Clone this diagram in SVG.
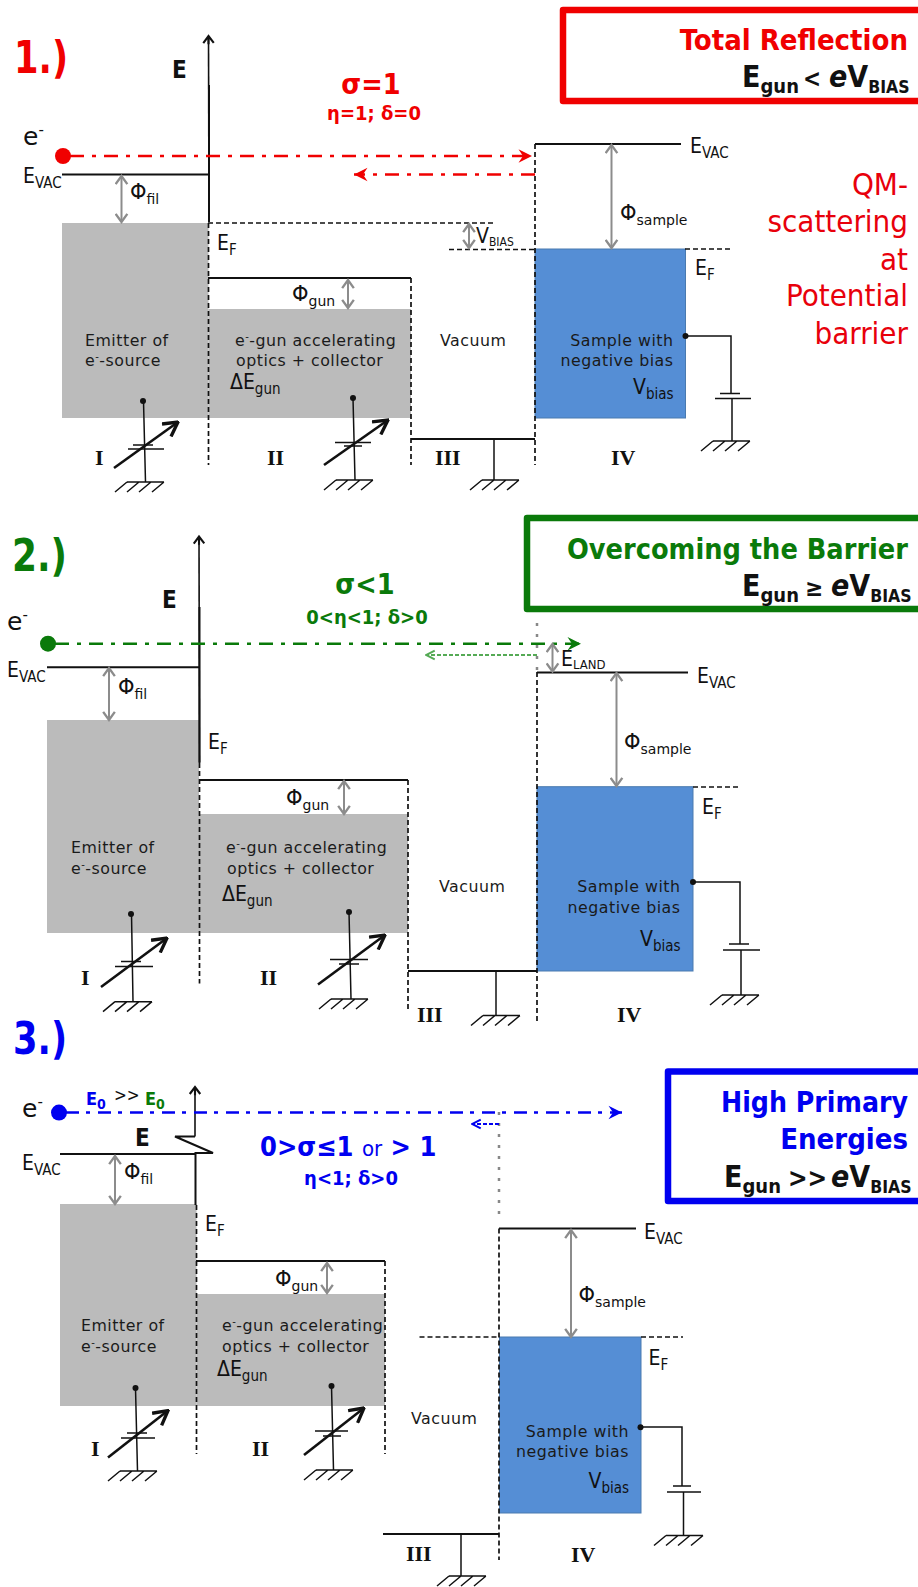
<svg xmlns="http://www.w3.org/2000/svg" width="918" height="1587" viewBox="0 0 918 1587">
<defs>
<style>
text{font-family:"DejaVu Sans","Noto Sans",sans-serif;font-stretch:condensed;fill:#111}
.ts{font-size:15.8px;fill:#1a1a1a;font-stretch:normal;letter-spacing:.5px}
.ts tspan{font-stretch:normal}
.lb{font-size:21px}
.lbs{font-size:15px}
.phi{font-size:21px;font-stretch:normal}
.sb{font-size:14px;font-stretch:normal}
.el{font-size:25px;font-stretch:normal}
.rom{font-family:"Liberation Serif",serif;font-weight:700;font-size:22px;font-stretch:normal}
.big{font-size:44px;font-weight:700}
.ttl{font-size:29px;font-weight:700;text-anchor:end}
.cond{font-size:30px;font-weight:700}
.cs{font-size:20px;font-weight:700}
.bi{font-size:17.5px;font-weight:700}
.sig{font-weight:700;font-size:28.5px;text-anchor:middle}
.eta{font-weight:700;font-size:20px;text-anchor:middle}
.qm{font-size:31px;fill:#e8000b;text-anchor:end}
.end{text-anchor:end}
.r{fill:#f00000}.g{fill:#0a7a0a}.b{fill:#0000f0}
.gray{fill:#bbb}
.blue{fill:#558ed5;stroke:#4a7aaf;stroke-width:1}
.s{stroke:#111;stroke-width:2;fill:none}
.th{stroke:#111;stroke-width:1.5;fill:none}
.d{stroke:#111;stroke-width:1.7;fill:none;stroke-dasharray:5 3}
.dot{stroke:#888;stroke-width:2.5;fill:none;stroke-dasharray:3 8}
.ga{stroke:#8c8c8c;stroke-width:2;fill:none;marker-start:url(#mg);marker-end:url(#mg)}
.va{stroke:#111;stroke-width:2.6;fill:none;marker-end:url(#mv)}
.ax{stroke:#111;stroke-width:1.6;fill:none;marker-end:url(#mk)}
.fr{fill:none;stroke-width:6.5;stroke-linejoin:round}
</style>
<marker id="mg" markerUnits="userSpaceOnUse" markerWidth="14" markerHeight="14" refX="10" refY="6" orient="auto-start-reverse" viewBox="0 0 12 12"><path d="M3 1L10 6L3 11" fill="none" stroke="#8c8c8c" stroke-width="2"/></marker>
<marker id="mv" markerUnits="userSpaceOnUse" markerWidth="18" markerHeight="18" refX="13" refY="7" orient="auto" viewBox="0 0 14 14"><path d="M2 1L13 7L2 13" fill="none" stroke="#111" stroke-width="2.6"/></marker>
<marker id="mk" markerUnits="userSpaceOnUse" markerWidth="14" markerHeight="14" refX="9" refY="6" orient="auto" viewBox="0 0 12 12"><path d="M3 1.5L9 6L3 10.500M9 6H2" fill="none" stroke="#111" stroke-width="1.8"/></marker>
<marker id="mr" markerUnits="userSpaceOnUse" markerWidth="18" markerHeight="16" refX="15" refY="7" orient="auto" viewBox="0 0 16 14"><path d="M3 1L15 7L3 13L7 7Z" fill="#f00000"/></marker>
<marker id="mgn" markerUnits="userSpaceOnUse" markerWidth="18" markerHeight="16" refX="15" refY="7" orient="auto" viewBox="0 0 16 14"><path d="M3 1L15 7L3 13L7 7Z" fill="#0a7a0a"/></marker>
<marker id="mlg" markerUnits="userSpaceOnUse" markerWidth="12" markerHeight="12" refX="10" refY="5" orient="auto" viewBox="0 0 11 10"><path d="M2 1L10 5L2 9" fill="none" stroke="#55aa55" stroke-width="1.8"/></marker>
<marker id="mb" markerUnits="userSpaceOnUse" markerWidth="18" markerHeight="16" refX="15" refY="7" orient="auto" viewBox="0 0 16 14"><path d="M3 1L15 7L3 13L7 7Z" fill="#0000f0"/></marker>
<marker id="mlb" markerUnits="userSpaceOnUse" markerWidth="12" markerHeight="12" refX="10" refY="5" orient="auto" viewBox="0 0 11 10"><path d="M2 1L10 5L2 9" fill="none" stroke="#0000f0" stroke-width="1.8"/></marker>
<path id="gnd" d="M12 0H49M12 0L0 10M24 0L12 10M36 0L24 10M49 0L37 10" fill="none" stroke="#111" stroke-width="1.5"/>
<circle id="pt" r="3" fill="#111"/>
</defs>
<rect width="918" height="1587" fill="#fff"/>

<!-- PANEL 1 -->
<g id="p1-emitter"><rect class="gray" x="62" y="223" width="146.500" height="195"/>
<text class="ts" x="85" y="346">Emitter of</text><text class="ts" x="85" y="366">e<tspan font-size="10" dy="-6">-</tspan><tspan dy="6">-source</tspan></text></g>
<g id="p1-gun"><rect class="gray" x="208.500" y="309" width="202.500" height="109"/>
<text class="ts" x="235" y="346">e<tspan font-size="10" dy="-6">-</tspan><tspan dy="6">-gun accelerating</tspan></text><text class="ts" x="236" y="366">optics + collector</text>
<text class="lb" x="230" y="389">ΔE<tspan class="lbs" dy="5">gun</tspan></text></g>
<g id="p1-vacuum"><text class="ts" x="440" y="346">Vacuum</text></g>
<g id="p1-sample"><rect class="blue" x="535" y="249" width="150.500" height="169"/>
<text class="ts end" x="673.500" y="346">Sample with</text><text class="ts end" x="673.500" y="366">negative bias</text>
<text class="lb end" x="673.500" y="394">V<tspan class="lbs" dy="5">bias</tspan></text></g>
<g id="p1-box"><rect class="fr" x="563" y="10" width="365" height="91" stroke="#f00000"/>
<text class="ttl r" x="908" y="50">Total Reflection</text>
<text class="cond" x="742" y="87">E<tspan class="cs" dy="6">gun</tspan><tspan x="803" dy="-6" font-size="24">&lt;</tspan><tspan x="829" font-style="italic">e</tspan>V<tspan class="bi" dy="6">BIAS</tspan></text></g>
<g id="p1-labels">
<text class="big r" x="14" y="73" textLength="54" lengthAdjust="spacingAndGlyphs">1.)</text>
<text x="172" y="78" font-size="24" font-weight="700">E</text>
<text class="sig r" x="371" y="94">σ=1</text><text class="eta r" x="374" y="120">η=1; δ=0</text>
<text class="el" x="23" y="145">e<tspan font-size="15" dy="-10">-</tspan></text>
<text class="lb" x="23" y="183">E<tspan class="lbs" dy="5">VAC</tspan></text>
<text class="phi" x="130" y="199">Φ<tspan class="sb" dy="5">fil</tspan></text>
<text class="lb" x="217" y="250">E<tspan class="lbs" dy="5">F</tspan></text>
<text class="phi" x="292" y="301">Φ<tspan class="sb" dy="5">gun</tspan></text>
<text class="lb" x="476" y="243">V<tspan font-size="12" dy="3">BIAS</tspan></text>
<text class="phi" x="620" y="220">Φ<tspan class="sb" dy="5">sample</tspan></text>
<text class="lb" x="690" y="153">E<tspan class="lbs" dy="5">VAC</tspan></text>
<text class="lb" x="695" y="275">E<tspan class="lbs" dy="5">F</tspan></text>
<text class="rom" x="95" y="465">I</text><text class="rom" x="267" y="465">II</text><text class="rom" x="435" y="465">III</text><text class="rom" x="611" y="465">IV</text>
<text class="qm" x="908" y="195">QM-</text><text class="qm" x="908" y="232">scattering</text><text class="qm" x="908" y="270">at</text><text class="qm" x="908" y="306">Potential</text><text class="qm" x="908" y="344">barrier</text>
</g>
<g id="p1-connectors">
<path class="ax" d="M209 222L208.500 36"/><path class="s" d="M209 222V85"/>
<path class="d" d="M208.500 223V465M411 278V465M535 144V465M208 223H493M449 249.500H535M685 249H731"/>
<path class="s" d="M62 174.500H208M208 278H411M411 439H535M535 144H681"/>
<circle cx="63" cy="156" r="8" fill="#f00000"/>
<path d="M70 156H532" fill="none" stroke="#f00000" stroke-width="2.500" stroke-dasharray="14 8 4 8" marker-end="url(#mr)"/>
<path d="M535 174.500H354" fill="none" stroke="#f00000" stroke-width="2.500" stroke-dasharray="14 8 4 8" marker-end="url(#mr)"/>
<path class="ga" d="M121.500 176V222"/><path class="ga" d="M348 280V308"/><path class="ga" d="M611.500 145V248"/><path class="ga" d="M469 224V248"/>
<use href="#pt" x="143" y="401"/><path class="th" d="M143.500 401L145.500 482M133 445H153M128 449H164"/><path class="va" d="M114 468L178 422"/><use href="#gnd" x="115" y="482"/>
<use href="#pt" x="353" y="398"/><path class="th" d="M353 398L355 480M335 442.500H371M344 446H362"/><path class="va" d="M324 465L388 420"/><use href="#gnd" x="324" y="480"/>
<path class="th" d="M494 439V480"/><use href="#gnd" x="470" y="480"/>
<use href="#pt" x="685.500" y="336"/><path class="th" d="M685 336H731V393M720 393.500H740M715 398.500H751M732 398.500V441"/><use href="#gnd" x="701" y="441"/>
</g>

<!-- PANEL 2 -->
<g id="p2-emitter"><rect class="gray" x="47" y="720" width="152" height="213"/>
<text class="ts" x="71" y="853">Emitter of</text><text class="ts" x="71" y="874">e<tspan font-size="10" dy="-6">-</tspan><tspan dy="6">-source</tspan></text></g>
<g id="p2-gun"><rect class="gray" x="199" y="814" width="209" height="119"/>
<text class="ts" x="226" y="853">e<tspan font-size="10" dy="-6">-</tspan><tspan dy="6">-gun accelerating</tspan></text><text class="ts" x="227" y="874">optics + collector</text>
<text class="lb" x="222" y="900.500">ΔE<tspan class="lbs" dy="5">gun</tspan></text></g>
<g id="p2-vacuum"><text class="ts" x="439" y="891.500">Vacuum</text></g>
<g id="p2-sample"><rect class="blue" x="537" y="786.700" width="156" height="184.300"/>
<text class="ts end" x="680.500" y="891.500">Sample with</text><text class="ts end" x="680.500" y="913">negative bias</text>
<text class="lb end" x="680.500" y="945.500">V<tspan class="lbs" dy="5">bias</tspan></text></g>
<g id="p2-box"><rect class="fr" x="527" y="518" width="400" height="91" stroke="#0a7a0a"/>
<text class="ttl g" x="908" y="559" textLength="341" lengthAdjust="spacingAndGlyphs">Overcoming the Barrier</text>
<text class="cond" x="742" y="596">E<tspan class="cs" dy="6">gun</tspan><tspan x="805" dy="-6" font-size="24">≥</tspan><tspan x="831" font-style="italic">e</tspan>V<tspan class="bi" dy="6">BIAS</tspan></text></g>
<g id="p2-labels">
<text class="big g" x="12" y="571" textLength="55" lengthAdjust="spacingAndGlyphs">2.)</text>
<text x="162" y="607.500" font-size="24" font-weight="700">E</text>
<text class="sig g" x="365" y="594">σ&lt;1</text><text class="eta g" x="367" y="623.500">0&lt;η&lt;1; δ&gt;0</text>
<text class="el" x="7" y="630">e<tspan font-size="15" dy="-10">-</tspan></text>
<text class="lb" x="7" y="676.500">E<tspan class="lbs" dy="5">VAC</tspan></text>
<text class="phi" x="118" y="693.500">Φ<tspan class="sb" dy="5">fil</tspan></text>
<text class="lb" x="208" y="748.500">E<tspan class="lbs" dy="5">F</tspan></text>
<text class="phi" x="286" y="805">Φ<tspan class="sb" dy="5">gun</tspan></text>
<text class="lb" x="561" y="665.500">E<tspan font-size="13" dy="3">LAND</tspan></text>
<text class="phi" x="624" y="748.500">Φ<tspan class="sb" dy="5">sample</tspan></text>
<text class="lb" x="697" y="682.500">E<tspan class="lbs" dy="5">VAC</tspan></text>
<text class="lb" x="702" y="814">E<tspan class="lbs" dy="5">F</tspan></text>
<text class="rom" x="81" y="984.500">I</text><text class="rom" x="260" y="984.500">II</text><text class="rom" x="417" y="1022">III</text><text class="rom" x="617" y="1022">IV</text>
</g>
<g id="p2-connectors">
<path class="ax" d="M199.500 762L199 536.500"/><path class="s" d="M199.500 763V607"/>
<path class="d" d="M199.500 763V983.500M408 780V1012M537 672V1022M693 787H741"/>
<path class="dot" d="M537 623V672"/>
<path class="s" d="M47 667.300H199M199 780H408M408 971H537M537 672.400H688"/>
<circle cx="48" cy="643.700" r="8" fill="#0a7a0a"/>
<path d="M55 643.700H581" fill="none" stroke="#0a7a0a" stroke-width="2.500" stroke-dasharray="14 8 4 8" marker-end="url(#mgn)"/>
<path d="M537 655H426" fill="none" stroke="#55aa55" stroke-width="2" stroke-dasharray="4 2" marker-end="url(#mlg)"/>
<path class="ga" d="M109 668V720"/><path class="ga" d="M344 781V814"/><path class="ga" d="M616.500 673V786"/><path class="ga" d="M552.500 644V671.500"/>
<use href="#pt" x="131" y="914"/><path class="th" d="M131.500 914L133 1001.700M121 961.500H141M115 966.500H153"/><path class="va" d="M101 987L167 938"/><use href="#gnd" x="103" y="1001.700"/>
<use href="#pt" x="349" y="912"/><path class="th" d="M349 912L351 999M330 959.500H368M339 964H359"/><path class="va" d="M318 984.500L385 935"/><use href="#gnd" x="319" y="999"/>
<path class="th" d="M496 971V1015.500"/><use href="#gnd" x="471" y="1015.500"/>
<use href="#pt" x="693" y="882"/><path class="th" d="M693 882H740V944M729 944H749M723 950H760M741 950V995"/><use href="#gnd" x="710" y="995"/>
</g>

<!-- PANEL 3 -->
<g id="p3-emitter"><rect class="gray" x="60" y="1204" width="136.500" height="202"/>
<text class="ts" x="81" y="1331">Emitter of</text><text class="ts" x="81" y="1351.500">e<tspan font-size="10" dy="-6">-</tspan><tspan dy="6">-source</tspan></text></g>
<g id="p3-gun"><rect class="gray" x="196.500" y="1294" width="188.500" height="112"/>
<text class="ts" x="222" y="1331">e<tspan font-size="10" dy="-6">-</tspan><tspan dy="6">-gun accelerating</tspan></text><text class="ts" x="222" y="1351.500">optics + collector</text>
<text class="lb" x="217" y="1376">ΔE<tspan class="lbs" dy="5">gun</tspan></text></g>
<g id="p3-vacuum"><text class="ts" x="411" y="1424">Vacuum</text></g>
<g id="p3-sample"><rect class="blue" x="499.500" y="1337" width="141.500" height="176"/>
<text class="ts end" x="629" y="1436.500">Sample with</text><text class="ts end" x="629" y="1457">negative bias</text>
<text class="lb end" x="629" y="1487.500">V<tspan class="lbs" dy="5">bias</tspan></text></g>
<g id="p3-box"><rect class="fr" x="668" y="1071.500" width="260" height="129.500" stroke="#0000f0"/>
<text class="ttl b" x="908" y="1111.500" textLength="187" lengthAdjust="spacingAndGlyphs">High Primary</text><text class="ttl b" x="908" y="1149">Energies</text>
<text class="cond" x="724" y="1187">E<tspan class="cs" dy="6">gun</tspan><tspan x="788" dy="-6" font-size="26">&gt;&gt;</tspan><tspan x="831" font-style="italic">e</tspan>V<tspan class="bi" dy="6">BIAS</tspan></text></g>
<g id="p3-labels">
<text class="big b" x="13" y="1054" textLength="54" lengthAdjust="spacingAndGlyphs">3.)</text>
<text x="135" y="1145.500" font-size="24" font-weight="700">E</text>
<text x="260" y="1155.500" font-size="27" font-weight="700" class="b">0&gt;σ≤1 <tspan font-weight="400" font-size="22">or</tspan> &gt; 1</text>
<text class="eta b" x="351" y="1184.500">η&lt;1; δ&gt;0</text>
<text class="el" x="22" y="1117">e<tspan font-size="15" dy="-10">-</tspan></text>
<text x="86" y="1105" font-size="18" font-weight="700" class="b">E<tspan font-size="14" dy="4">0</tspan></text>
<text x="114" y="1101" font-size="17">&gt;&gt;</text>
<text x="145" y="1105" font-size="18" font-weight="700" class="g">E<tspan font-size="14" dy="4">0</tspan></text>
<text class="lb" x="22" y="1170">E<tspan class="lbs" dy="5">VAC</tspan></text>
<text class="phi" x="124" y="1179">Φ<tspan class="sb" dy="5">fil</tspan></text>
<text class="lb" x="205" y="1231">E<tspan class="lbs" dy="5">F</tspan></text>
<text class="phi" x="275" y="1286">Φ<tspan class="sb" dy="5">gun</tspan></text>
<text class="phi" x="578.500" y="1301.500">Φ<tspan class="sb" dy="5">sample</tspan></text>
<text class="lb" x="644" y="1239">E<tspan class="lbs" dy="5">VAC</tspan></text>
<text class="lb" x="648.500" y="1364.500">E<tspan class="lbs" dy="5">F</tspan></text>
<text class="rom" x="91" y="1456">I</text><text class="rom" x="252" y="1456">II</text><text class="rom" x="406" y="1560.500">III</text><text class="rom" x="571" y="1561.500">IV</text>
</g>
<g id="p3-connectors">
<path class="ax" d="M195 1136.500V1087"/>
<path class="s" d="M195 1136.500H175L213 1153H195.500V1205"/>
<path class="d" d="M196.500 1205V1454M385 1261V1454M499 1228.500V1560M419.500 1337H499M641 1337H683"/>
<path class="dot" d="M499 1112V1214"/>
<path class="s" d="M60 1154H195M196 1261H385M383 1534H499M499 1228.400H636"/>
<circle cx="59" cy="1112.600" r="8" fill="#0000f0"/>
<path d="M66 1112.600H622" fill="none" stroke="#0000f0" stroke-width="2.500" stroke-dasharray="13 7 4 8" marker-end="url(#mb)"/>
<path d="M499 1124H472" fill="none" stroke="#0000f0" stroke-width="2" stroke-dasharray="4 2" marker-end="url(#mlb)"/>
<path class="ga" d="M115 1156V1204"/><path class="ga" d="M327 1263V1293"/><path class="ga" d="M571 1230V1337"/>
<use href="#pt" x="135.500" y="1388"/><path class="th" d="M135.500 1388L137.500 1471M127 1433H147M121 1438H155"/><path class="va" d="M108 1457.600L168 1410.600"/><use href="#gnd" x="108" y="1471"/>
<use href="#pt" x="331.500" y="1386"/><path class="th" d="M331.500 1386L333.500 1470M315 1431H348M323 1436H341"/><path class="va" d="M304 1455L364 1408"/><use href="#gnd" x="304" y="1470"/>
<path class="th" d="M461 1534V1576"/><use href="#gnd" x="437" y="1576"/>
<use href="#pt" x="640.500" y="1427.300"/><path class="th" d="M641 1427H682V1486M673 1486H691M667 1492H701M683.500 1492V1535.500"/><use href="#gnd" x="654" y="1535.500"/>
</g>
</svg>
